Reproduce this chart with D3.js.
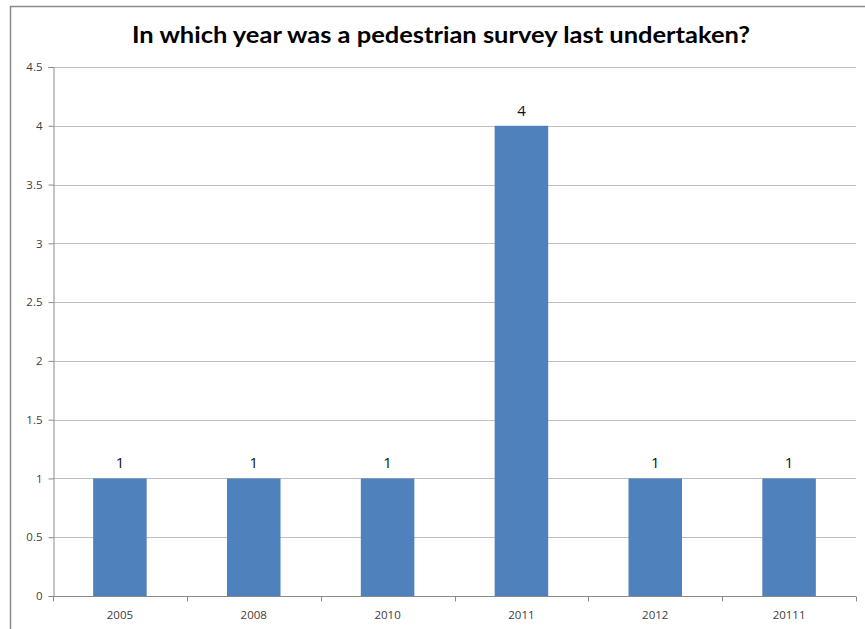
<!DOCTYPE html>
<html>
<head>
<meta charset="utf-8">
<script src="https://cdn.jsdelivr.net/npm/d3@7"></script>
<style>
  body { margin: 0; background: #fff; }
  svg { display: block; }
</style>
</head>
<body>
<svg id="chart" width="865" height="629"></svg>
<script>
// data
const years = ['2005', '2008', '2010', '2011', '2012', '20111'];
const counts = [1, 1, 1, 4, 1, 1];
const yTicks = [0, 0.5, 1, 1.5, 2, 2.5, 3, 3.5, 4, 4.5];

const svg = d3.select('#chart');
const margin = { left: 53, right: 9, top: 67, bottom: 33 };
const width = 865, height = 629;

// outer frame (runs off the right and bottom edges)
svg.append('rect')
  .attr('x', 10.5).attr('y', 6.5)
  .attr('width', 880).attr('height', 660)
  .attr('fill', 'none')
  .attr('stroke', '#8a8a8a')
  .attr('stroke-width', 1.5);

svg.append('text')
  .attr('x', 441).attr('y', 43)
  .attr('text-anchor', 'middle')
  .attr('font-family', 'Lato, "Open Sans", sans-serif')
  .attr('font-weight', 'bold')
  .attr('font-size', 23)
  .attr('fill', '#000')
  .attr('textLength', 618)
  .attr('lengthAdjust', 'spacingAndGlyphs')
  .text('In which year was a pedestrian survey last undertaken?');

const x = d3.scaleBand()
  .domain(years)
  .range([margin.left, width - margin.right])
  .paddingInner(0.6).paddingOuter(0.3);

const y = d3.scaleLinear()
  .domain([0, 4.5])
  .range([height - margin.bottom, margin.top]);

// gridlines
svg.append('g')
  .selectAll('line')
  .data(yTicks.filter(d => d > 0))
  .enter().append('line')
  .attr('x1', margin.left).attr('x2', width - margin.right)
  .attr('y1', d => Math.round(y(d)) + 0.5)
  .attr('y2', d => Math.round(y(d)) + 0.5)
  .attr('stroke', '#bebebe');

// bars
svg.append('g')
  .selectAll('rect')
  .data(years)
  .enter().append('rect')
  .attr('x', d => x(d))
  .attr('width', x.bandwidth())
  .attr('y', (d, i) => y(counts[i]))
  .attr('height', (d, i) => y(0) - y(counts[i]))
  .attr('fill', '#4f81bd');

// value labels
svg.append('g')
  .selectAll('text')
  .data(years)
  .enter().append('text')
  .attr('x', d => x(d) + x.bandwidth() / 2)
  .attr('y', (d, i) => y(counts[i]) - 10)
  .attr('text-anchor', 'middle')
  .attr('font-family', '"Open Sans", sans-serif')
  .attr('font-size', 15)
  .attr('fill', '#111')
  .text((d, i) => counts[i]);

// y axis
const yAxis = svg.append('g')
  .attr('transform', `translate(${margin.left + 0.5},0)`)
  .call(d3.axisLeft(y).tickValues(yTicks).tickSize(5).tickPadding(6).tickFormat(d3.format('')));
yAxis.select('.domain').attr('stroke', '#8a8a8a');
yAxis.selectAll('.tick line').attr('stroke', '#8a8a8a');
yAxis.selectAll('.tick text')
  .attr('font-family', '"Open Sans", sans-serif')
  .attr('font-size', 11.5)
  .attr('fill', '#404040');

// x axis with ticks at band edges
const xAxisG = svg.append('g')
  .attr('transform', `translate(0,${Math.round(y(0)) + 0.5})`);
xAxisG.append('line')
  .attr('x1', margin.left).attr('x2', width - margin.right)
  .attr('stroke', '#8a8a8a');
const edges = d3.range(years.length + 1).map(i => margin.left + i * (width - margin.left - margin.right) / years.length);
xAxisG.selectAll('.edge')
  .data(edges)
  .enter().append('line')
  .attr('x1', d => Math.round(d) + 0.5).attr('x2', d => Math.round(d) + 0.5)
  .attr('y1', 0).attr('y2', 5)
  .attr('stroke', '#8a8a8a');
xAxisG.selectAll('.lbl')
  .data(years)
  .enter().append('text')
  .attr('x', d => x(d) + x.bandwidth() / 2)
  .attr('y', 22)
  .attr('text-anchor', 'middle')
  .attr('font-family', '"Open Sans", sans-serif')
  .attr('font-size', 11.5)
  .attr('fill', '#404040')
  .text(d => d);
</script>
</body>
</html>
